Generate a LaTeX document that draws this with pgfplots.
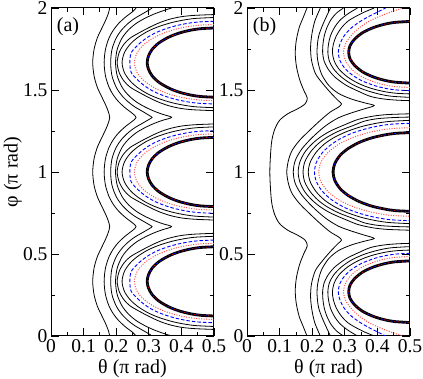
\documentclass[border=0pt]{standalone}
\usepackage{fontspec}
\setmainfont{Liberation Serif}
\usepackage{pgfplots}
\pgfplotsset{compat=1.18}

\pgfplotsset{
  panel/.style={
    scale only axis, width=163pt, height=328pt,
    xmin=0, xmax=0.5, ymin=0, ymax=2,
    xtick={0,0.1,0.2,0.3,0.4,0.5}, xticklabels={0,0.1,0.2,0.3,0.4,0.5},
    ytick={0,0.5,1,1.5,2}, yticklabels={0,0.5,1,1.5,2},
    minor x tick num=1, minor y tick num=1,
    tick align=inside, major tick length=7.5pt, minor tick length=4pt,
    axis line style={line width=1pt}, every tick/.style={black, line width=0.8pt},
    tick label style={font=\fontsize{19.5}{21}\selectfont},
    label style={font=\fontsize{20}{23}\selectfont},
    xlabel={θ (π rad)},
  },
  ln/.style={black, line width=0.8pt, smooth},
  bd/.style={blue, line width=0.9pt, dash pattern=on 3.5pt off 2pt, smooth},
  rd/.style={red!70, line width=1pt, dash pattern=on 1pt off 1.5pt, smooth},
  tk/.style={black, line width=2.8pt, smooth,
    postaction={draw=red, line width=0.7pt, dash pattern=on 1pt off 2.5pt},
    postaction={draw=blue, line width=0.7pt, dash pattern=on 1.5pt off 3.5pt}},
}

\begin{document}
\begin{tikzpicture}
\useasboundingbox (0,0) rectangle (423pt,379pt);

% ---------------- panel (a)
\begin{axis}[panel, at={(51pt,43pt)}, anchor=south west, ylabel={φ (π rad)},
  ylabel style={at={(axis description cs:-0.235,0.5)}, anchor=center}]
% open curves
\addplot[ln] coordinates {(0.18,0)(0.176,0.033)(0.168,0.073)(0.156,0.123)(0.142,0.183)(0.132,0.253)(0.128,0.333)(0.132,0.413)(0.142,0.483)(0.156,0.543)(0.168,0.593)(0.176,0.633)(0.18,0.667)(0.176,0.7)(0.168,0.74)(0.156,0.79)(0.142,0.85)(0.132,0.92)(0.128,1.0)(0.132,1.08)(0.142,1.15)(0.156,1.21)(0.168,1.26)(0.176,1.3)(0.18,1.333)(0.176,1.367)(0.168,1.407)(0.156,1.457)(0.142,1.517)(0.132,1.587)(0.128,1.667)(0.132,1.747)(0.142,1.817)(0.156,1.877)(0.168,1.927)(0.176,1.967)(0.18,2.0)};
\addplot[ln] coordinates {(0.261,0)(0.25,0.023)(0.23,0.053)(0.208,0.093)(0.192,0.133)(0.178,0.183)(0.167,0.253)(0.163,0.333)(0.167,0.413)(0.178,0.483)(0.192,0.533)(0.208,0.573)(0.23,0.613)(0.25,0.643)(0.261,0.667)(0.25,0.69)(0.23,0.72)(0.208,0.76)(0.192,0.8)(0.178,0.85)(0.167,0.92)(0.163,1.0)(0.167,1.08)(0.178,1.15)(0.192,1.2)(0.208,1.24)(0.23,1.28)(0.25,1.31)(0.261,1.333)(0.25,1.357)(0.23,1.387)(0.208,1.427)(0.192,1.467)(0.178,1.517)(0.167,1.587)(0.163,1.667)(0.167,1.747)(0.178,1.817)(0.192,1.867)(0.208,1.907)(0.23,1.947)(0.25,1.977)(0.261,2.0)};
\addplot[ln] coordinates {(0.31,0)(0.302,0.011)(0.283,0.033)(0.257,0.063)(0.237,0.093)(0.217,0.133)(0.2,0.183)(0.187,0.253)(0.183,0.333)(0.187,0.413)(0.2,0.483)(0.217,0.533)(0.237,0.573)(0.257,0.603)(0.283,0.633)(0.302,0.655)(0.31,0.667)(0.302,0.678)(0.283,0.7)(0.257,0.73)(0.237,0.76)(0.217,0.8)(0.2,0.85)(0.187,0.92)(0.183,1.0)(0.187,1.08)(0.2,1.15)(0.217,1.2)(0.237,1.24)(0.257,1.27)(0.283,1.3)(0.302,1.322)(0.31,1.333)(0.302,1.344)(0.283,1.367)(0.257,1.397)(0.237,1.427)(0.217,1.467)(0.2,1.517)(0.187,1.587)(0.183,1.667)(0.187,1.747)(0.2,1.817)(0.217,1.867)(0.237,1.907)(0.257,1.937)(0.283,1.967)(0.302,1.989)(0.31,2.0)};
\addplot[ln] coordinates {(0.37,0)(0.342,0.018)(0.315,0.038)(0.288,0.063)(0.262,0.093)(0.238,0.133)(0.218,0.183)(0.203,0.253)(0.198,0.333)(0.203,0.413)(0.218,0.483)(0.238,0.533)(0.262,0.573)(0.288,0.603)(0.315,0.628)(0.342,0.648)(0.37,0.667)(0.342,0.685)(0.315,0.705)(0.288,0.73)(0.262,0.76)(0.238,0.8)(0.218,0.85)(0.203,0.92)(0.198,1.0)(0.203,1.08)(0.218,1.15)(0.238,1.2)(0.262,1.24)(0.288,1.27)(0.315,1.295)(0.342,1.315)(0.37,1.333)(0.342,1.352)(0.315,1.372)(0.288,1.397)(0.262,1.427)(0.238,1.467)(0.218,1.517)(0.203,1.587)(0.198,1.667)(0.203,1.747)(0.218,1.817)(0.238,1.867)(0.262,1.907)(0.288,1.937)(0.315,1.962)(0.342,1.982)(0.37,2.0)};
% closed curves, lobe at 1/3
\addplot[ln] coordinates {(0.5,0.626)(0.44,0.621)(0.4,0.613)(0.365,0.598)(0.335,0.578)(0.307,0.553)(0.278,0.523)(0.243,0.483)(0.223,0.443)(0.209,0.393)(0.203,0.333)(0.209,0.273)(0.223,0.223)(0.243,0.183)(0.278,0.143)(0.307,0.113)(0.335,0.088)(0.365,0.068)(0.4,0.053)(0.44,0.045)(0.5,0.04)};
\addplot[ln] coordinates {(0.5,0.608)(0.447,0.603)(0.414,0.595)(0.372,0.578)(0.331,0.553)(0.296,0.523)(0.264,0.483)(0.242,0.443)(0.225,0.393)(0.218,0.333)(0.225,0.273)(0.242,0.223)(0.264,0.183)(0.296,0.143)(0.331,0.113)(0.372,0.088)(0.414,0.071)(0.447,0.063)(0.5,0.058)};
\addplot[bd] coordinates {(0.5,0.585)(0.454,0.581)(0.421,0.573)(0.384,0.558)(0.35,0.538)(0.319,0.513)(0.293,0.483)(0.268,0.443)(0.246,0.393)(0.242,0.333)(0.246,0.273)(0.268,0.223)(0.293,0.183)(0.319,0.153)(0.35,0.128)(0.384,0.108)(0.421,0.093)(0.454,0.085)(0.5,0.081)};
\addplot[rd] coordinates {(0.5,0.565)(0.461,0.562)(0.44,0.558)(0.408,0.548)(0.376,0.533)(0.346,0.513)(0.314,0.483)(0.285,0.443)(0.264,0.393)(0.256,0.333)(0.264,0.273)(0.285,0.223)(0.314,0.183)(0.346,0.153)(0.376,0.133)(0.408,0.118)(0.44,0.108)(0.461,0.104)(0.5,0.101)};
\addplot[tk] coordinates {(0.5,0.544)(0.46,0.54)(0.429,0.531)(0.393,0.513)(0.361,0.488)(0.331,0.453)(0.31,0.413)(0.299,0.373)(0.295,0.333)(0.299,0.293)(0.31,0.253)(0.331,0.213)(0.361,0.178)(0.393,0.153)(0.429,0.135)(0.46,0.126)(0.5,0.122)};
% lobe at 1
\addplot[ln] coordinates {(0.5,1.293)(0.44,1.288)(0.4,1.28)(0.365,1.265)(0.335,1.245)(0.307,1.22)(0.278,1.19)(0.243,1.15)(0.223,1.11)(0.209,1.06)(0.203,1.0)(0.209,0.94)(0.223,0.89)(0.243,0.85)(0.278,0.81)(0.307,0.78)(0.335,0.755)(0.365,0.735)(0.4,0.72)(0.44,0.712)(0.5,0.707)};
\addplot[ln] coordinates {(0.5,1.275)(0.447,1.27)(0.414,1.262)(0.372,1.245)(0.331,1.22)(0.296,1.19)(0.264,1.15)(0.242,1.11)(0.225,1.06)(0.218,1.0)(0.225,0.94)(0.242,0.89)(0.264,0.85)(0.296,0.81)(0.331,0.78)(0.372,0.755)(0.414,0.738)(0.447,0.73)(0.5,0.725)};
\addplot[bd] coordinates {(0.5,1.252)(0.454,1.248)(0.421,1.24)(0.384,1.225)(0.35,1.205)(0.319,1.18)(0.293,1.15)(0.268,1.11)(0.246,1.06)(0.242,1.0)(0.246,0.94)(0.268,0.89)(0.293,0.85)(0.319,0.82)(0.35,0.795)(0.384,0.775)(0.421,0.76)(0.454,0.752)(0.5,0.748)};
\addplot[rd] coordinates {(0.5,1.232)(0.461,1.229)(0.44,1.225)(0.408,1.215)(0.376,1.2)(0.346,1.18)(0.314,1.15)(0.285,1.11)(0.264,1.06)(0.256,1.0)(0.264,0.94)(0.285,0.89)(0.314,0.85)(0.346,0.82)(0.376,0.8)(0.408,0.785)(0.44,0.775)(0.461,0.771)(0.5,0.768)};
\addplot[tk] coordinates {(0.5,1.211)(0.46,1.207)(0.429,1.198)(0.393,1.18)(0.361,1.155)(0.331,1.12)(0.31,1.08)(0.299,1.04)(0.295,1.0)(0.299,0.96)(0.31,0.92)(0.331,0.88)(0.361,0.845)(0.393,0.82)(0.429,0.802)(0.46,0.793)(0.5,0.789)};
% lobe at 5/3
\addplot[ln] coordinates {(0.5,1.96)(0.44,1.955)(0.4,1.947)(0.365,1.932)(0.335,1.912)(0.307,1.887)(0.278,1.857)(0.243,1.817)(0.223,1.777)(0.209,1.727)(0.203,1.667)(0.209,1.607)(0.223,1.557)(0.243,1.517)(0.278,1.477)(0.307,1.447)(0.335,1.422)(0.365,1.402)(0.4,1.387)(0.44,1.379)(0.5,1.374)};
\addplot[ln] coordinates {(0.5,1.942)(0.447,1.937)(0.414,1.929)(0.372,1.912)(0.331,1.887)(0.296,1.857)(0.264,1.817)(0.242,1.777)(0.225,1.727)(0.218,1.667)(0.225,1.607)(0.242,1.557)(0.264,1.517)(0.296,1.477)(0.331,1.447)(0.372,1.422)(0.414,1.405)(0.447,1.397)(0.5,1.392)};
\addplot[bd] coordinates {(0.5,1.919)(0.454,1.915)(0.421,1.907)(0.384,1.892)(0.35,1.872)(0.319,1.847)(0.293,1.817)(0.268,1.777)(0.246,1.727)(0.242,1.667)(0.246,1.607)(0.268,1.557)(0.293,1.517)(0.319,1.487)(0.35,1.462)(0.384,1.442)(0.421,1.427)(0.454,1.419)(0.5,1.415)};
\addplot[rd] coordinates {(0.5,1.899)(0.461,1.896)(0.44,1.892)(0.408,1.882)(0.376,1.867)(0.346,1.847)(0.314,1.817)(0.285,1.777)(0.264,1.727)(0.256,1.667)(0.264,1.607)(0.285,1.557)(0.314,1.517)(0.346,1.487)(0.376,1.467)(0.408,1.452)(0.44,1.442)(0.461,1.438)(0.5,1.435)};
\addplot[tk] coordinates {(0.5,1.878)(0.46,1.874)(0.429,1.865)(0.393,1.847)(0.361,1.822)(0.331,1.787)(0.31,1.747)(0.299,1.707)(0.295,1.667)(0.299,1.627)(0.31,1.587)(0.331,1.547)(0.361,1.512)(0.393,1.487)(0.429,1.469)(0.46,1.46)(0.5,1.456)};
\node[anchor=north west, inner sep=0pt, font=\fontsize{20}{23}\selectfont] at (rel axis cs:0.035,0.97) {(a)};
\end{axis}

% ---------------- panel (b)
\begin{axis}[panel, at={(247pt,43pt)}, anchor=south west]
% open curves
\addplot[ln] coordinates {(0.184,0)(0.172,0.06)(0.16,0.12)(0.151,0.2)(0.148,0.28)(0.152,0.36)(0.162,0.44)(0.176,0.51)(0.185,0.55)(0.178,0.585)(0.155,0.615)(0.125,0.645)(0.1,0.685)(0.085,0.74)(0.076,0.81)(0.072,0.9)(0.07,1.0)(0.072,1.1)(0.076,1.19)(0.085,1.26)(0.1,1.315)(0.125,1.355)(0.155,1.385)(0.178,1.415)(0.185,1.45)(0.176,1.49)(0.162,1.56)(0.152,1.64)(0.148,1.72)(0.151,1.8)(0.16,1.88)(0.172,1.94)(0.184,2.0)};
\addplot[ln] coordinates {(0.225,0)(0.208,0.08)(0.199,0.16)(0.195,0.24)(0.198,0.32)(0.21,0.4)(0.232,0.46)(0.258,0.52)(0.28,0.565)(0.29,0.585)(0.28,0.605)(0.255,0.635)(0.225,0.685)(0.19,0.75)(0.16,0.81)(0.138,0.87)(0.127,0.93)(0.122,1.0)(0.127,1.07)(0.138,1.13)(0.16,1.19)(0.19,1.25)(0.225,1.315)(0.255,1.365)(0.28,1.395)(0.29,1.415)(0.28,1.435)(0.258,1.48)(0.232,1.54)(0.21,1.6)(0.198,1.68)(0.195,1.76)(0.199,1.84)(0.208,1.92)(0.225,2.0)};
\addplot[ln] coordinates {(0.256,0)(0.235,0.09)(0.22,0.17)(0.215,0.25)(0.217,0.32)(0.228,0.4)(0.25,0.47)(0.28,0.52)(0.32,0.555)(0.36,0.578)(0.39,0.595)(0.36,0.615)(0.32,0.64)(0.28,0.67)(0.24,0.72)(0.2,0.79)(0.168,0.86)(0.148,0.93)(0.142,1.0)(0.148,1.07)(0.168,1.14)(0.2,1.21)(0.24,1.28)(0.28,1.33)(0.32,1.36)(0.36,1.385)(0.39,1.405)(0.36,1.422)(0.32,1.445)(0.28,1.48)(0.25,1.53)(0.228,1.6)(0.217,1.68)(0.215,1.75)(0.22,1.83)(0.235,1.91)(0.256,2.0)};
% middle lobe
\addplot[ln] coordinates {(0.5,1.355)(0.43,1.35)(0.385,1.34)(0.34,1.32)(0.302,1.29)(0.256,1.25)(0.223,1.21)(0.199,1.17)(0.177,1.12)(0.162,1.06)(0.157,1.0)(0.162,0.94)(0.177,0.88)(0.199,0.83)(0.223,0.79)(0.256,0.75)(0.302,0.71)(0.34,0.68)(0.385,0.66)(0.43,0.65)(0.5,0.645)};
\addplot[ln] coordinates {(0.5,1.335)(0.45,1.332)(0.4,1.325)(0.36,1.31)(0.328,1.285)(0.282,1.25)(0.244,1.21)(0.217,1.17)(0.194,1.12)(0.177,1.06)(0.172,1.0)(0.177,0.94)(0.194,0.88)(0.217,0.83)(0.244,0.79)(0.282,0.75)(0.328,0.715)(0.36,0.69)(0.4,0.675)(0.45,0.668)(0.5,0.665)};
\addplot[ln] coordinates {(0.5,1.315)(0.435,1.308)(0.391,1.295)(0.348,1.275)(0.304,1.245)(0.267,1.21)(0.237,1.17)(0.212,1.12)(0.194,1.06)(0.188,1.0)(0.194,0.94)(0.212,0.88)(0.237,0.83)(0.267,0.79)(0.304,0.755)(0.348,0.725)(0.391,0.705)(0.435,0.692)(0.5,0.685)};
\addplot[bd] coordinates {(0.5,1.297)(0.446,1.292)(0.408,1.282)(0.368,1.265)(0.327,1.24)(0.293,1.21)(0.26,1.17)(0.232,1.12)(0.213,1.06)(0.207,1.0)(0.213,0.94)(0.232,0.88)(0.26,0.83)(0.293,0.79)(0.327,0.76)(0.368,0.735)(0.408,0.718)(0.446,0.708)(0.5,0.703)};
\addplot[rd] coordinates {(0.5,1.27)(0.452,1.266)(0.417,1.258)(0.372,1.24)(0.324,1.21)(0.282,1.17)(0.249,1.12)(0.227,1.06)(0.22,1.0)(0.227,0.94)(0.249,0.88)(0.282,0.83)(0.324,0.79)(0.372,0.76)(0.417,0.742)(0.452,0.734)(0.5,0.73)};
\addplot[tk] coordinates {(0.5,1.24)(0.457,1.236)(0.433,1.23)(0.386,1.21)(0.344,1.18)(0.308,1.14)(0.285,1.1)(0.269,1.05)(0.264,1.0)(0.269,0.95)(0.285,0.9)(0.308,0.86)(0.344,0.82)(0.386,0.79)(0.433,0.77)(0.457,0.764)(0.5,0.76)};
% lower lobe
\addplot[ln] coordinates {(0.5,0.565)(0.46,0.562)(0.42,0.555)(0.38,0.54)(0.344,0.51)(0.303,0.47)(0.269,0.42)(0.248,0.37)(0.236,0.32)(0.232,0.27)(0.233,0.22)(0.237,0.17)(0.245,0.12)(0.258,0.07)(0.275,0.03)(0.296,0)};
\addplot[ln] coordinates {(0.5,0.545)(0.443,0.538)(0.406,0.525)(0.362,0.50)(0.322,0.465)(0.289,0.42)(0.265,0.37)(0.252,0.32)(0.248,0.27)(0.25,0.22)(0.256,0.17)(0.268,0.12)(0.285,0.075)(0.31,0.035)(0.339,0)};
\addplot[ln] coordinates {(0.5,0.524)(0.458,0.52)(0.422,0.51)(0.381,0.49)(0.342,0.46)(0.308,0.42)(0.281,0.37)(0.267,0.32)(0.262,0.27)(0.265,0.22)(0.274,0.17)(0.29,0.12)(0.31,0.08)(0.335,0.05)(0.36,0.025)(0.39,0)};
\addplot[bd] coordinates {(0.5,0.504)(0.46,0.50)(0.43,0.492)(0.394,0.475)(0.354,0.445)(0.324,0.41)(0.301,0.37)(0.285,0.32)(0.28,0.27)(0.285,0.22)(0.298,0.17)(0.318,0.125)(0.345,0.085)(0.375,0.05)(0.4,0.025)(0.425,0)};
\addplot[rd] coordinates {(0.5,0.485)(0.448,0.478)(0.414,0.465)(0.375,0.44)(0.345,0.41)(0.319,0.37)(0.302,0.32)(0.296,0.27)(0.302,0.22)(0.319,0.17)(0.345,0.12)(0.38,0.075)(0.42,0.04)(0.455,0.015)(0.478,0)};
\addplot[tk] coordinates {(0.5,0.458)(0.453,0.452)(0.42,0.44)(0.387,0.42)(0.355,0.39)(0.33,0.35)(0.316,0.31)(0.312,0.27)(0.316,0.23)(0.33,0.19)(0.355,0.15)(0.387,0.12)(0.42,0.10)(0.453,0.088)(0.5,0.082)};
% upper lobe
\addplot[ln] coordinates {(0.5,1.435)(0.46,1.438)(0.42,1.445)(0.38,1.46)(0.344,1.49)(0.303,1.53)(0.269,1.58)(0.248,1.63)(0.236,1.68)(0.232,1.73)(0.233,1.78)(0.237,1.83)(0.245,1.88)(0.258,1.93)(0.275,1.97)(0.296,2)};
\addplot[ln] coordinates {(0.5,1.455)(0.443,1.462)(0.406,1.475)(0.362,1.50)(0.322,1.535)(0.289,1.58)(0.265,1.63)(0.252,1.68)(0.248,1.73)(0.25,1.78)(0.256,1.83)(0.268,1.88)(0.285,1.925)(0.31,1.965)(0.339,2)};
\addplot[ln] coordinates {(0.5,1.476)(0.458,1.48)(0.422,1.49)(0.381,1.51)(0.342,1.54)(0.308,1.58)(0.281,1.63)(0.267,1.68)(0.262,1.73)(0.265,1.78)(0.274,1.83)(0.29,1.88)(0.31,1.92)(0.335,1.95)(0.36,1.975)(0.39,2)};
\addplot[bd] coordinates {(0.5,1.496)(0.46,1.50)(0.43,1.508)(0.394,1.525)(0.354,1.555)(0.324,1.59)(0.301,1.63)(0.285,1.68)(0.28,1.73)(0.285,1.78)(0.298,1.83)(0.318,1.875)(0.345,1.915)(0.375,1.95)(0.4,1.975)(0.425,2)};
\addplot[rd] coordinates {(0.5,1.515)(0.448,1.522)(0.414,1.535)(0.375,1.56)(0.345,1.59)(0.319,1.63)(0.302,1.68)(0.296,1.73)(0.302,1.78)(0.319,1.83)(0.345,1.88)(0.38,1.925)(0.42,1.96)(0.455,1.985)(0.478,2)};
\addplot[tk] coordinates {(0.5,1.542)(0.453,1.548)(0.42,1.56)(0.387,1.58)(0.355,1.61)(0.33,1.65)(0.316,1.69)(0.312,1.73)(0.316,1.77)(0.33,1.81)(0.355,1.85)(0.387,1.88)(0.42,1.90)(0.453,1.912)(0.5,1.918)};
\node[anchor=north west, inner sep=0pt, font=\fontsize{20}{23}\selectfont] at (rel axis cs:0.035,0.97) {(b)};
\end{axis}
\end{tikzpicture}
\end{document}
